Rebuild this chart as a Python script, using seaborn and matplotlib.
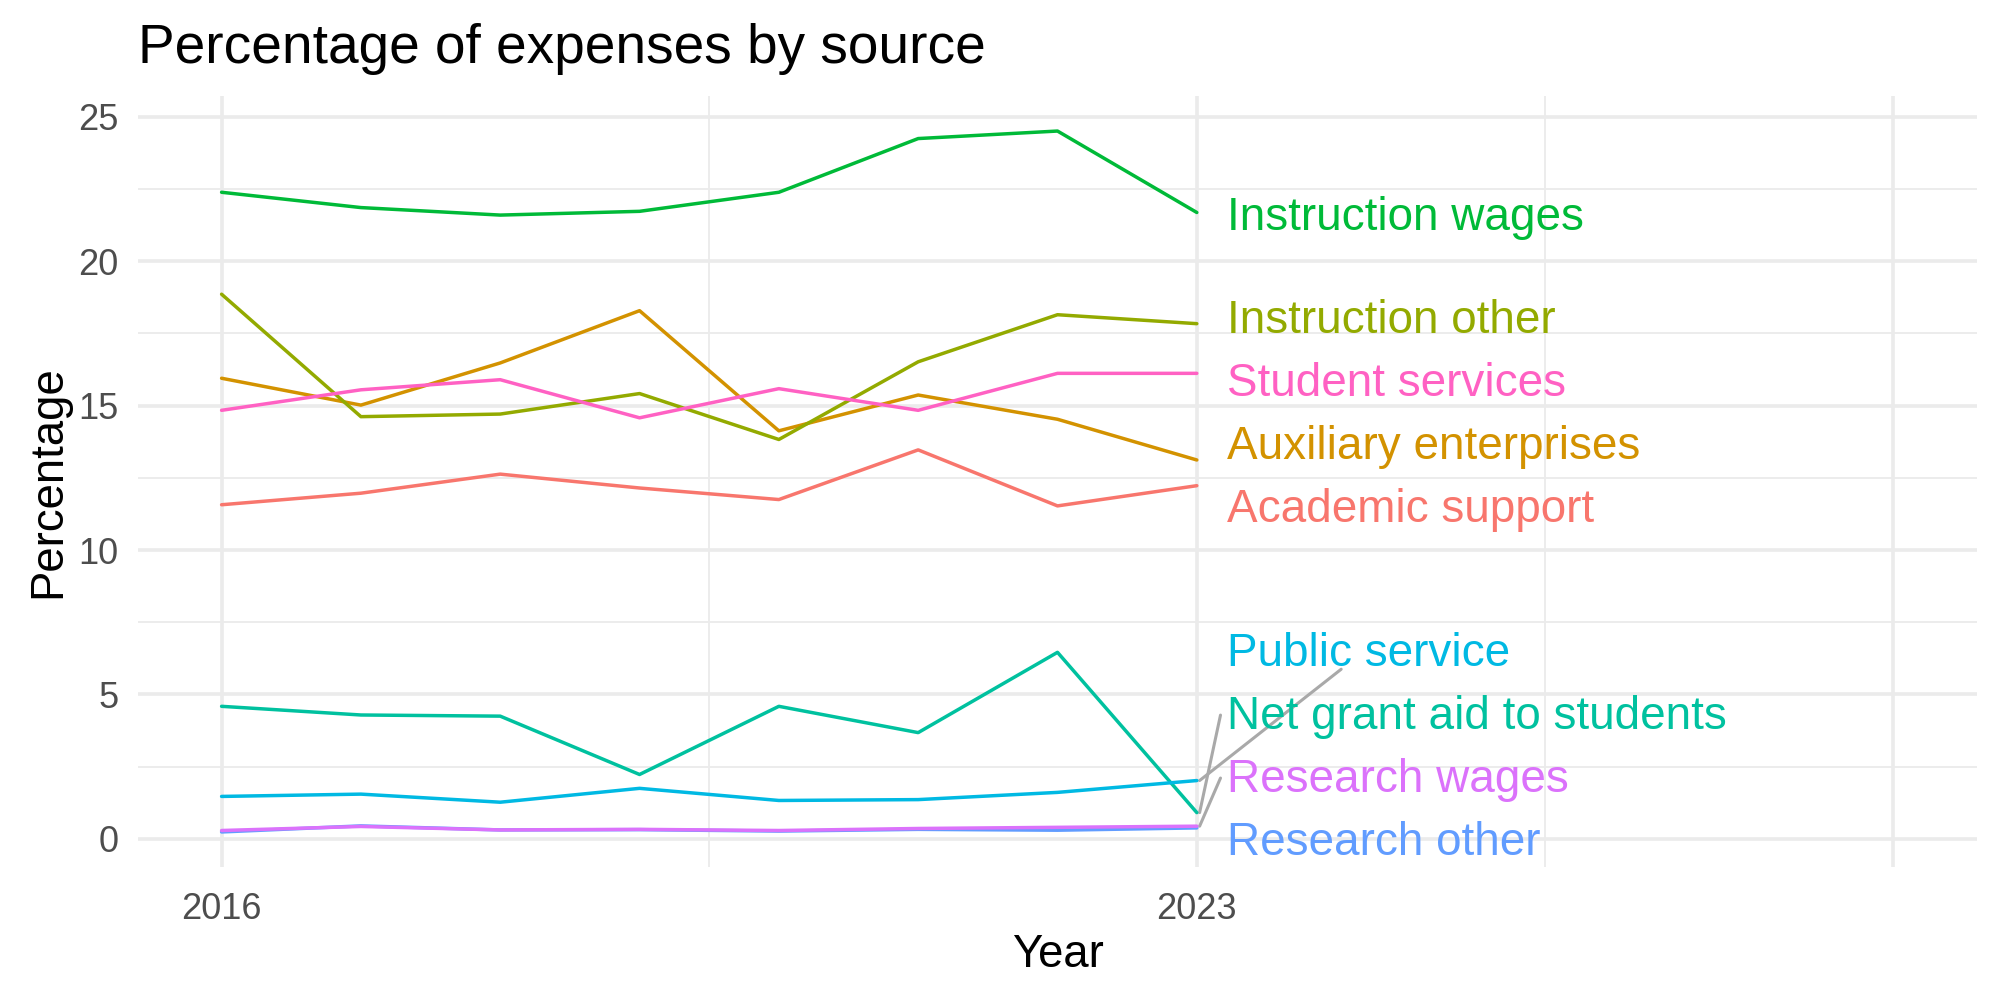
import matplotlib
matplotlib.use("Agg")
import matplotlib.pyplot as plt
import numpy as np
import pandas as pd
import seaborn as sns

# data
years = [2016, 2017, 2018, 2019, 2020, 2021, 2022, 2023]
academic_support = [11.57, 11.97, 12.63, 12.15, 11.75, 13.47, 11.53, 12.23]
auxiliary_enterprises = [15.95, 15.02, 16.48, 18.29, 14.13, 15.37, 14.53, 13.12]
instruction_other = [18.86, 14.62, 14.71, 15.42, 13.83, 16.52, 18.15, 17.84]
instruction_wages = [22.39, 21.86, 21.60, 21.73, 22.39, 24.25, 24.51, 21.69]
net_grant_aid = [4.59, 4.29, 4.25, 2.23, 4.59, 3.68, 6.46, 0.91]
public_service = [1.47, 1.55, 1.27, 1.75, 1.33, 1.36, 1.61, 2.02]
research_other = [0.24, 0.45, 0.31, 0.32, 0.27, 0.33, 0.30, 0.38]
research_wages = [0.29, 0.43, 0.31, 0.33, 0.29, 0.36, 0.40, 0.44]
student_services = [14.84, 15.55, 15.90, 14.58, 15.59, 14.84, 16.12, 16.12]

sources = [
    "Academic support",
    "Auxiliary enterprises",
    "Instruction other",
    "Instruction wages",
    "Net grant aid to students",
    "Public service",
    "Research other",
    "Research wages",
    "Student services",
]
series = [
    academic_support,
    auxiliary_enterprises,
    instruction_other,
    instruction_wages,
    net_grant_aid,
    public_service,
    research_other,
    research_wages,
    student_services,
]
colors = ["#F8766D", "#D39200", "#93AA00", "#00BA38", "#00C19F",
          "#00B9E3", "#619CFF", "#DB72FB", "#FF61C3"]
x_breaks = [2016, 2023, 2028]
x_labels = ["2016", "2023", ""]

df = pd.DataFrame(
    [(y, s, v) for s, vals in zip(sources, series) for y, v in zip(years, vals)],
    columns=["Year", "Source", "Percentage"],
)
palette = dict(zip(sources, colors))


def spread_labels(targets, gap, lower):
    # crude 1-d repel: merge overlapping groups, centre them on their targets
    order = list(np.argsort(targets))
    t = np.asarray(targets, float)
    groups = [[i] for i in order]

    def place(g):
        start = t[g].mean() - gap * (len(g) - 1) / 2
        return max(start, lower)

    merged = True
    while merged:
        merged = False
        for k in range(len(groups) - 1):
            a, b = groups[k], groups[k + 1]
            if place(b) < place(a) + gap * len(a):
                groups[k] = a + b
                del groups[k + 1]
                merged = True
                break
    pos = np.empty(len(t))
    for g in groups:
        s = place(g)
        for j, i in enumerate(g):
            pos[i] = s + j * gap
    return pos


sns.set_style("white")
plt.rcParams["font.family"] = ["Liberation Sans", "DejaVu Sans"]
plt.rcParams["text.color"] = "black"
plt.rcParams["axes.labelcolor"] = "black"

fig, ax = plt.subplots(figsize=(10, 5), dpi=200)
fig.subplots_adjust(left=0.069, right=0.9885, top=0.904, bottom=0.133)

sns.lineplot(data=df, x="Year", y="Percentage", hue="Source", palette=palette,
             linewidth=1.25, legend=False, ax=ax, estimator=None)

# ggplot style 5% expansion
xmin, xmax = 2016, 2028
ymin, ymax = df["Percentage"].min(), df["Percentage"].max()
ax.set_xlim(xmin - 0.05 * (xmax - xmin), xmax + 0.05 * (xmax - xmin))
ax.set_ylim(ymin - 0.05 * (ymax - ymin), ymax + 0.05 * (ymax - ymin))

ax.set_xticks(x_breaks)
ax.set_xticklabels(x_labels)
ax.set_xticks([2019.5, 2025.5], minor=True)
ax.set_yticks([0, 5, 10, 15, 20, 25])
ax.set_yticks([2.5, 7.5, 12.5, 17.5, 22.5], minor=True)
ax.grid(which="major", color="#EBEBEB", linewidth=1.3)
ax.grid(which="minor", color="#EBEBEB", linewidth=0.65)
ax.set_axisbelow(True)
for sp in ax.spines.values():
    sp.set_visible(False)
ax.tick_params(which="both", length=0, labelsize=13, labelcolor="#4D4D4D")
ax.tick_params(axis="x", pad=9)
ax.tick_params(axis="y", pad=7)

ax.set_xlabel("Year", fontsize=16.4, labelpad=2)
ax.set_ylabel("Percentage", fontsize=16.4, labelpad=3)
ax.set_title("Percentage of expenses by source", fontsize=19.8, loc="left", pad=12)

# end labels, repelled vertically
ends = [vals[-1] for vals in series]
gap = 2.18
lab_y = spread_labels(ends, gap, ax.get_ylim()[0] + 1.0)
lab_x = years[-1] + 0.22
texts = []
for s, c, y in zip(sources, colors, lab_y):
    texts.append(ax.text(lab_x, y - 0.18, s, color=c, fontsize=16.5,
                         ha="left", va="center"))

fig.canvas.draw()
inv = ax.transData.inverted()
for txt, end, y in zip(texts, ends, lab_y):
    if abs(y - end) < 1.5:
        continue
    bb = txt.get_window_extent().transformed(inv)
    if y - end > 2 * gap:
        x1, y1 = (bb.x0 + bb.x1) / 2 - 0.2, bb.y0 + 0.25
    else:
        x1, y1 = bb.x0 - 0.05, y - 0.1
    ax.plot([years[-1] + 0.02, x1], [end, y1], color="#A9A9A9", linewidth=1.1,
            solid_capstyle="round", zorder=1.5)

fig.savefig("out.png", dpi=200)
